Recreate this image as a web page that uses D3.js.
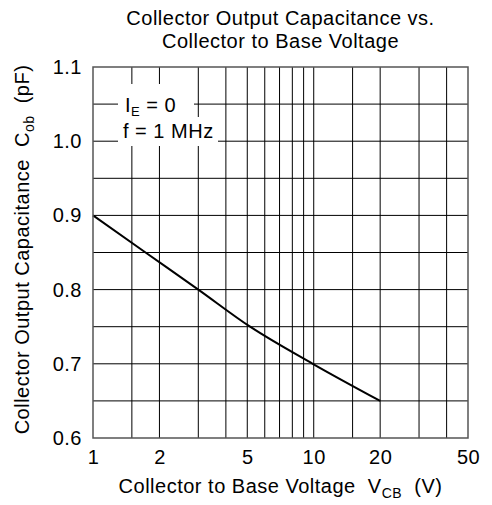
<!DOCTYPE html>
<html>
<head>
<meta charset="utf-8">
<script src="https://cdn.jsdelivr.net/npm/d3@7.9.0/dist/d3.min.js"></script>
<style>
  body { margin: 0; background: #fff; }
  svg { font-family: "Liberation Sans", Arial, sans-serif; }
  svg text { letter-spacing: 0.5px; }
</style>
</head>
<body>
<div id="chart"></div>
<script>
// Data (curve crossings of the grid)
const voltage = [1, 1.73, 3.0, 5.15, 9.9, 20];
const capacitance = [0.9, 0.85, 0.8, 0.75, 0.7, 0.65];

const xTicks = [1, 2, 5, 10, 20, 50];
const yTicks = [0.6, 0.7, 0.8, 0.9, 1.0, 1.1];
const xGrid = [1.5, 2, 3, 4, 5, 6, 7, 8, 9, 10, 15, 20, 30, 40];
const yGrid = [0.65, 0.7, 0.75, 0.8, 0.85, 0.9, 0.95, 1.0, 1.05];

const W = 492, H = 505;
const margin = { top: 67, right: 24, bottom: 67, left: 93 };
const width = W - margin.left - margin.right;
const height = H - margin.top - margin.bottom;
const FS = 20, SUB = 14;

const svg = d3.select('#chart').append('svg')
  .attr('width', W)
  .attr('height', H);

const g = svg.append('g')
  .attr('transform', `translate(${margin.left},${margin.top})`);

const x = d3.scaleLog().domain([1, 50]).range([0, width]);
const y = d3.scaleLinear().domain([0.6, 1.1]).range([height, 0]);

// grid
g.append('g')
  .selectAll('line')
  .data(xGrid)
  .join('line')
  .attr('x1', d => x(d)).attr('x2', d => x(d))
  .attr('y1', 0).attr('y2', height)
  .attr('stroke', '#000').attr('stroke-width', 1);

g.append('g')
  .selectAll('line')
  .data(yGrid)
  .join('line')
  .attr('x1', 0).attr('x2', width)
  .attr('y1', d => y(d)).attr('y2', d => y(d))
  .attr('stroke', '#000').attr('stroke-width', 1);

// curve
const pts = voltage.map((v, i) => [v, capacitance[i]]);
g.append('path')
  .datum(pts)
  .attr('fill', 'none')
  .attr('stroke', '#000')
  .attr('stroke-width', 2)
  .attr('d', d3.line().x(d => x(d[0])).y(d => y(d[1])).curve(d3.curveMonotoneX));

// white background behind the condition text
g.append('rect')
  .attr('x', 25).attr('y', 17)
  .attr('width', 76).attr('height', 33)
  .attr('fill', '#fff');
g.append('rect')
  .attr('x', 25).attr('y', 50)
  .attr('width', 100).attr('height', 29)
  .attr('fill', '#fff');

const ann = g.append('g').attr('font-size', FS).attr('fill', '#000');
const t1 = ann.append('text').attr('x', 32).attr('y', 45).attr('xml:space', 'preserve');
t1.append('tspan').text('I');
t1.append('tspan').attr('font-size', 13).attr('dy', 4).text('E');
t1.append('tspan').attr('dy', -4).text(' = 0');
ann.append('text').attr('x', 30).attr('y', 71).text('f = 1 MHz');

// frame
g.append('rect')
  .attr('width', width).attr('height', height)
  .attr('fill', 'none')
  .attr('stroke', '#555')
  .attr('stroke-width', 1.5);

// axes
const xAxis = g.append('g')
  .attr('transform', `translate(0,${height})`)
  .call(d3.axisBottom(x).tickValues(xTicks).tickSize(0).tickPadding(12).tickFormat(d3.format('d')));
xAxis.select('.domain').remove();
xAxis.selectAll('text').attr('font-size', FS).attr('fill', '#000')
  .attr('font-family', '"Liberation Sans", Arial, sans-serif');

const yAxis = g.append('g')
  .call(d3.axisLeft(y).tickValues(yTicks).tickSize(0).tickPadding(11).tickFormat(d3.format('.1f')));
yAxis.select('.domain').remove();
yAxis.selectAll('text').attr('font-size', FS).attr('fill', '#000')
  .attr('font-family', '"Liberation Sans", Arial, sans-serif');

// title
const cx = margin.left + width / 2;
svg.append('text').attr('x', cx).attr('y', 25).attr('text-anchor', 'middle')
  .attr('font-size', FS).text('Collector Output Capacitance vs.');
svg.append('text').attr('x', cx).attr('y', 48).attr('text-anchor', 'middle')
  .attr('font-size', FS).text('Collector to Base Voltage');

// x label
const xl = svg.append('text').attr('x', cx).attr('y', 493).attr('text-anchor', 'middle')
  .attr('font-size', FS).attr('xml:space', 'preserve');
xl.append('tspan').text('Collector to Base Voltage  V');
xl.append('tspan').attr('font-size', SUB).attr('dy', 5).text('CB');
xl.append('tspan').attr('dy', -5).text('  (V)');

// y label
const yl = svg.append('text')
  .attr('transform', `translate(29,${margin.top + height / 2 - 3}) rotate(-90)`)
  .attr('text-anchor', 'middle')
  .attr('font-size', FS).attr('xml:space', 'preserve');
yl.append('tspan').text('Collector Output Capacitance  C');
yl.append('tspan').attr('font-size', SUB).attr('dy', 5).text('ob');
yl.append('tspan').attr('dy', -5).text('  (pF)');
</script>
</body>
</html>
